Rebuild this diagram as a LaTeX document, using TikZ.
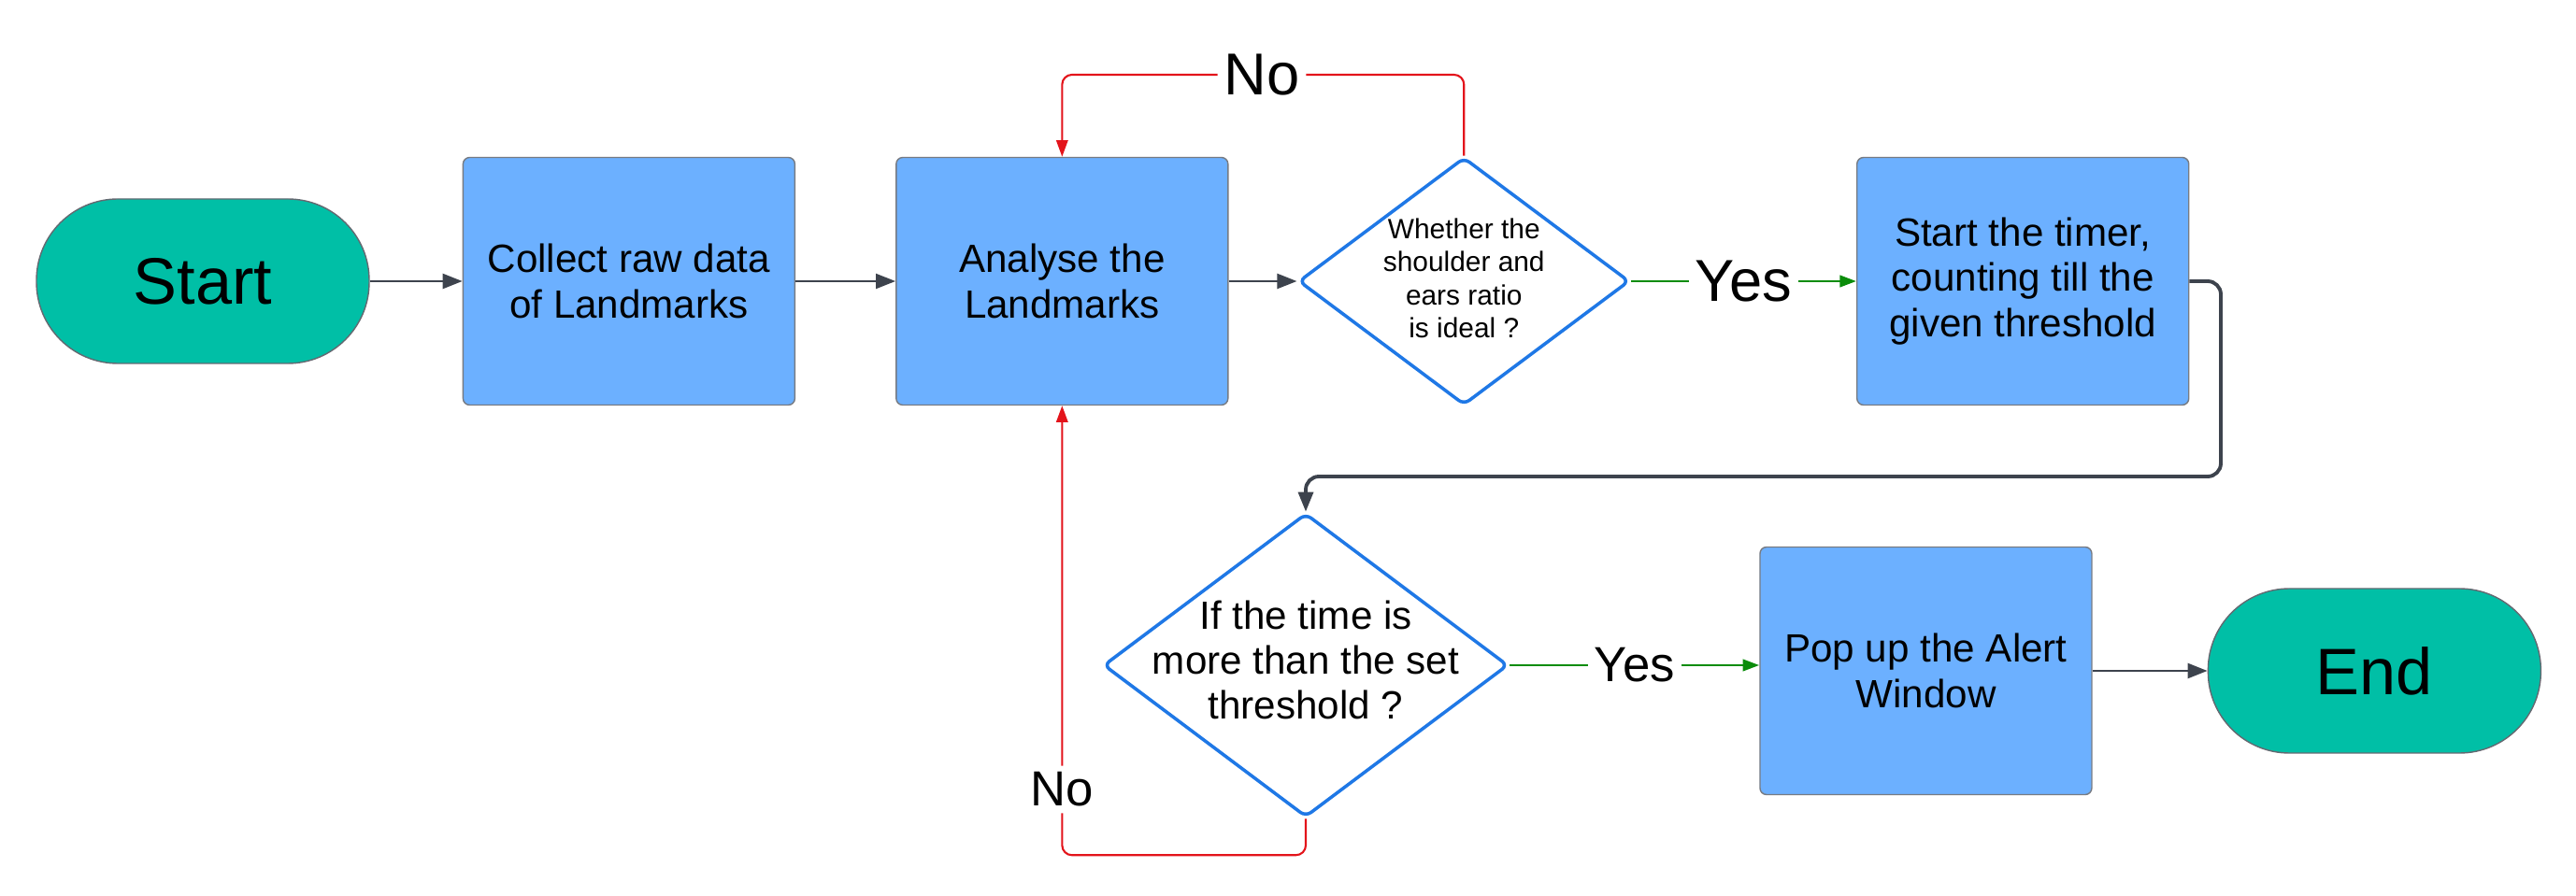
\documentclass[tikz,border=0pt]{standalone}
\usepackage{fontspec}
\setmainfont{Liberation Sans}
\usepackage{tikz}
\usetikzlibrary{arrows.meta,positioning,shapes.geometric}
\definecolor{TermGreen}{HTML}{00BFA6}
\definecolor{ProcBlue}{HTML}{6CB0FF}
\definecolor{DecBlue}{HTML}{1F78E6}
\definecolor{FlowGray}{HTML}{3D434D}
\definecolor{NoRed}{HTML}{E3141B}
\definecolor{YesGreen}{HTML}{0A8C0A}
% text of a decision, kept from widening the diamond
\newcommand{\dectext}[1]{\raisebox{-.25em}[0pt][0pt]{\makebox[0pt]{\begin{tabular}{@{}c@{}}#1\end{tabular}}}}

\begin{document}
\begin{tikzpicture}[
	terminal/.style={draw=FlowGray!80, thin, fill=TermGreen, rounded corners=0.87cm, minimum width=3.56cm, minimum height=1.76cm, font=\fontsize{20}{24}\selectfont},
	process/.style={draw=FlowGray!70, thin, fill=ProcBlue, rounded corners=2pt, align=center, minimum width=3.55cm, minimum height=2.65cm, font=\fontsize{12}{13.7}\selectfont},
	decision/.style={diamond, draw=DecBlue, line width=1pt, fill=white, rounded corners=2pt, inner sep=0pt},
	flow/.style={-{Triangle[length=6pt,width=4.5pt]}, draw=FlowGray, line width=0.8pt},
	yesflow/.style={-{Triangle[length=5pt,width=3.5pt]}, draw=YesGreen, line width=0.8pt},
	noflow/.style={-{Triangle[length=5pt,width=3.5pt]}, draw=NoRed, line width=0.6pt, rounded corners=3pt},
	edgelabel/.style={fill=white, inner sep=2pt}
]
\useasboundingbox (0,0) rectangle (27.56,9.58);

\node[terminal] (start) at (2.17,6.57) {Start};
\node[process, right=0.99cm of start] (collect) {Collect raw data\\of Landmarks};
\node[process, right=1.07cm of collect] (analyse) {Analyse the\\Landmarks};
\node[decision, minimum width=3.54cm, minimum height=2.65cm, right=0.73cm of analyse,
	font=\fontsize{8.5}{10}\selectfont] (ratio) {\dectext{Whether the\\shoulder and\\ears ratio\\is ideal ?}};
\node[process, right=2.41cm of ratio] (timer) {Start the timer,\\counting till the\\given threshold};

\node[decision, minimum width=4.33cm, minimum height=3.25cm,
	font=\fontsize{12}{13.7}\selectfont] (overtime) at (13.97,2.46) {\dectext{If the time is\\more than the set\\threshold ?}};
\node[process, right=2.67cm of overtime, yshift=-0.06cm] (alert) {Pop up the Alert\\Window};
\node[terminal, right=1.23cm of alert] (finish) {End};

\coordinate (noturn) at (13.50,8.78);
\coordinate (loopturn) at (23.76,4.48);

\draw[flow] (start) -- (collect);
\draw[flow] (collect) -- (analyse);
\draw[flow] (analyse) -- (ratio);
\draw[yesflow] (ratio) -- node[edgelabel, font=\fontsize{18}{20}\selectfont] {Yes} (timer);
\draw[noflow] (ratio.north) |- (noturn) node[edgelabel, font=\fontsize{18}{20}\selectfont] {No} -| (analyse.north);
\draw[flow, line width=1.1pt, rounded corners=4pt] (timer.east) -| (loopturn) -| (overtime.north);
\draw[yesflow] (overtime.east) -- node[edgelabel, font=\fontsize{15}{18}\selectfont] {Yes} (overtime.east -| alert.west);
\draw[noflow] (overtime.south) -- ++(0,-0.39) -| node[edgelabel, pos=0.573, font=\fontsize{15}{18}\selectfont] {No} (analyse.south);
\draw[flow] (alert) -- (finish);
\end{tikzpicture}
\end{document}
